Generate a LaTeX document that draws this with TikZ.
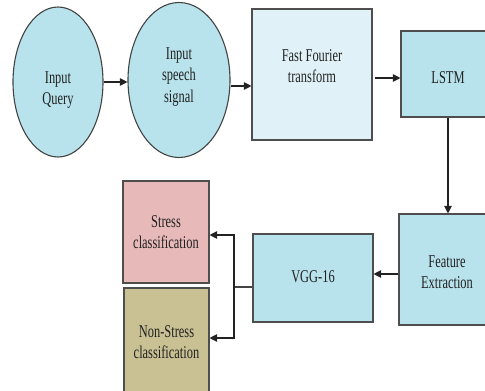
\documentclass[tikz,border=0pt]{standalone}
\usepackage{fontspec}
\setmainfont{Liberation Serif}[FakeStretch=0.69]
\usetikzlibrary{shapes.geometric,arrows.meta,calc}
\definecolor{boxblue}{HTML}{B8E3EC}
\definecolor{paleblue}{HTML}{E0F2F8}
\definecolor{stresspink}{HTML}{E8B9B9}
\definecolor{khaki}{HTML}{C9C193}
\definecolor{ink}{HTML}{222222}
\tikzset{
  every picture/.style={x=1pt,y=-1pt},
  blob/.style={ellipse,draw=ink!85,line width=1.1pt,fill=boxblue,inner sep=0pt},
  block/.style={rectangle,draw=ink!80,line width=1.1pt,inner sep=0pt},
  txt/.style={font=\fontsize{18}{21.5}\selectfont,text=ink,align=center,inner sep=0pt},
  arr/.style={draw=ink,line width=1.1pt,-{Triangle[length=7.5pt,width=7.5pt]}},
  link/.style={draw=ink!85,line width=1.1pt}
}
\begin{document}
\begin{tikzpicture}
\useasboundingbox (0,0) rectangle (485,391);
\clip (0,0) rectangle (485,391);
\fill[white] (0,0) rectangle (485,391);

% input stages
\node[blob,minimum width=90,minimum height=150] (e1) at (58,82) {};
\node[txt] (e1T) at (58,90) {Input\\Query};
\node[blob,minimum width=102,minimum height=155] (e2) at (179,80) {};
\node[txt] (e2T) at (179,77) {Input\\speech\\signal};

% processing chain
\node[block,fill=paleblue,minimum width=120,minimum height=131] (fft) at (312,74.5) {};
\node[txt] (fftT) at (312,66) {Fast Fourier\\transform};
\node[block,fill=boxblue,minimum width=90,minimum height=86] (lstm) at (446,74) {};
\node[txt] (lstmT) at (448,78) {LSTM};
\node[block,fill=boxblue,minimum width=92,minimum height=111] (feat) at (445,269.5) {};
\node[txt] (featT) at (447,272) {Feature\\Extraction};
\node[block,fill=boxblue,minimum width=120,minimum height=88] (vgg) at (313,278) {};
\node[txt] (vggT) at (313,277) {VGG-16};

% outcomes
\node[block,fill=stresspink,minimum width=86,minimum height=102] (stress) at (166,232) {};
\node[txt] (stressT) at (166,232) {Stress\\classification};
\node[block,fill=khaki,minimum width=85,minimum height=112] (nonstress) at (166.5,344) {};
\node[txt] (nonstressT) at (166.5,342) {Non-Stress\\classification};

% connectors
\draw[arr] (e1.east) -- (e1.east -| e2.west);
\draw[arr] ([yshift=-6pt]e2.east) -- ([yshift=-6pt]e2.east -| fft.west);
\draw[arr] ([xshift=2pt]fft.east |- lstmT) -- (lstm.west |- lstmT);
\draw[arr] (lstmT |- lstm.south) -- (lstmT |- feat.north);
\draw[arr] ([yshift=4pt]vgg.east -| feat.west) -- ([yshift=4pt]vgg.east);

\coordinate (br) at (234,287);
\coordinate (bt) at (234,235);
\coordinate (bb) at (234,338);
\draw[link] (br -| vgg.west) -- (br);
\draw[arr] (br) -- (bt) -- (bt -| stress.east);
\draw[arr] (br) -- (bb) -- (bb -| nonstress.east);
\end{tikzpicture}
\end{document}
